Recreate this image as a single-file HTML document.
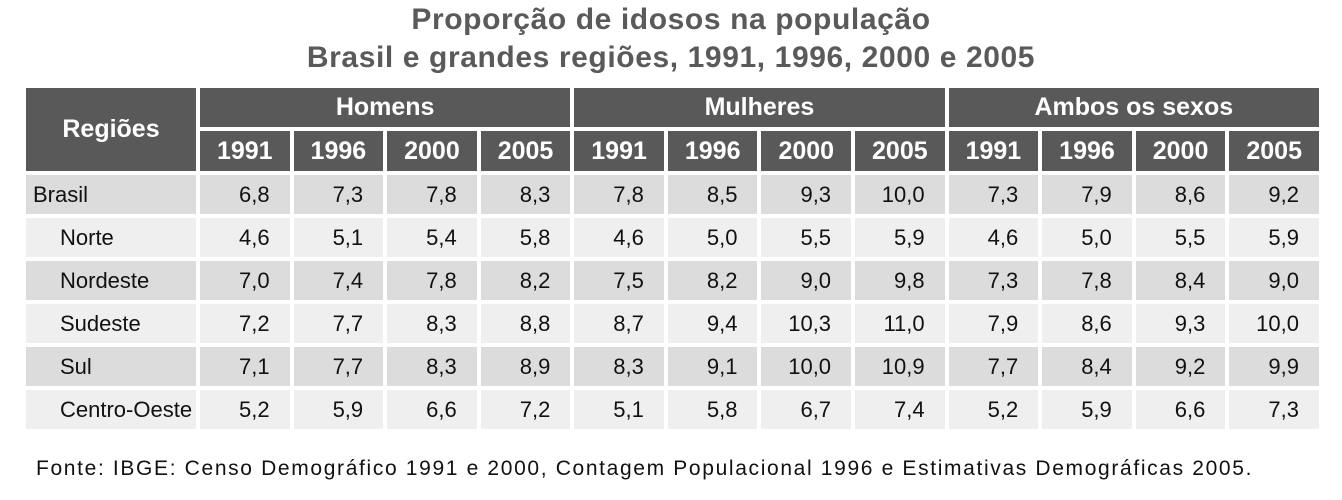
<!DOCTYPE html>
<html><head><meta charset="utf-8"><style>
body{margin:0;width:1342px;height:500px;background:#fff;font-family:"Liberation Sans",sans-serif;position:relative;overflow:hidden}
.t{position:absolute;left:0;width:1342px;text-align:center;font-weight:bold;color:#5a5a5a;font-size:30px;letter-spacing:0.6px}
table{position:absolute;left:22px;top:84px;border-collapse:separate;border-spacing:4px;table-layout:fixed;width:1301px}
th{background:#595959;color:#fff;font-size:25px;font-weight:bold;padding:0;text-align:center}
td{font-size:22px;color:#111;padding:0 20px 0 0;text-align:right;height:39px;white-space:nowrap;overflow:hidden}
tr.a td{background:#dcdcdc}tr.b td{background:#efefef}
td.r{text-align:left;padding-left:34px;padding-right:0}td.r0{text-align:left;padding-left:7px}
.f{position:absolute;left:36px;top:457px;font-size:21px;color:#111;letter-spacing:1.65px;white-space:nowrap}
</style></head><body>
<div class="t" style="top:3px">Proporção de idosos na população</div>
<div class="t" style="top:41px">Brasil e grandes regiões, 1991, 1996, 2000 e 2005</div>
<table>
<colgroup><col style="width:170px"><col span="12"></colgroup>
<tr style="height:39px"><th rowspan="2">Regiões</th><th colspan="4">Homens</th><th colspan="4">Mulheres</th><th colspan="4">Ambos os sexos</th></tr>
<tr style="height:40px" id="yr"></tr>
<tbody id="tb"></tbody>
</table>
<div class="f">Fonte: IBGE: Censo Demográfico 1991 e 2000, Contagem Populacional 1996 e Estimativas Demográficas 2005.</div>
<script>
const years=["1991","1996","2000","2005"];
const regions=["Brasil","Norte","Nordeste","Sudeste","Sul","Centro-Oeste"];
const homens=[["6,8","7,3","7,8","8,3"],["4,6","5,1","5,4","5,8"],["7,0","7,4","7,8","8,2"],["7,2","7,7","8,3","8,8"],["7,1","7,7","8,3","8,9"],["5,2","5,9","6,6","7,2"]];
const mulheres=[["7,8","8,5","9,3","10,0"],["4,6","5,0","5,5","5,9"],["7,5","8,2","9,0","9,8"],["8,7","9,4","10,3","11,0"],["8,3","9,1","10,0","10,9"],["5,1","5,8","6,7","7,4"]];
const ambos=[["7,3","7,9","8,6","9,2"],["4,6","5,0","5,5","5,9"],["7,3","7,8","8,4","9,0"],["7,9","8,6","9,3","10,0"],["7,7","8,4","9,2","9,9"],["5,2","5,9","6,6","7,3"]];
const yr=document.getElementById('yr');
for(let g=0;g<3;g++)years.forEach(y=>{const th=document.createElement('th');th.textContent=y;


yr.appendChild(th);});
const tb=document.getElementById('tb');
regions.forEach((r,i)=>{const tr=document.createElement('tr');tr.className=i%2?'b':'a';


const c=document.createElement('td');c.className=i?'r':'r0';c.textContent=r;


tr.appendChild(c);
[homens,mulheres,ambos].forEach(s=>s[i].forEach(v=>{const d=document.createElement('td');d.textContent=v;


tr.appendChild(d);}));
tb.appendChild(tr);});
</script>
</body></html>
